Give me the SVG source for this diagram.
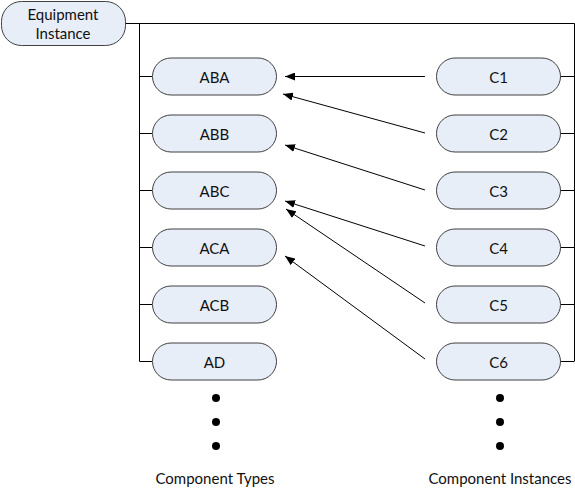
<svg xmlns="http://www.w3.org/2000/svg" width="575" height="489" viewBox="0 0 575 489">
<style>
.node rect{fill:#e8eef8;stroke:#404040;stroke-width:1}
.node text,.lbl{font-family:Lato,"Liberation Sans",Arial,sans-serif;font-size:15px;fill:#111;text-anchor:middle;dominant-baseline:central}
.conn path{fill:none;stroke:#000;stroke-width:1}
.arr path{fill:none;stroke:#000;stroke-width:1;marker-end:url(#ah)}
.dot{fill:#000}
</style>
<defs>
<marker id="ah" viewBox="0 0 10 8" refX="10" refY="4" markerWidth="10" markerHeight="8" markerUnits="userSpaceOnUse" orient="auto">
<path d="M0,0 L10,4 L0,8 Z" fill="#000"/>
</marker>
</defs>
<g id="connectors" class="conn">
<path d="M125.5,23.5 H574.5 V361"/>
<path d="M139.5,23.5 V361.5"/>
<path d="M139.5,76.5 H152 M139.5,133.5 H152 M139.5,190.5 H152 M139.5,247.5 H152 M139.5,304.5 H152 M139.5,361.5 H152"/>
<path d="M560,76.5 H574.5 M560,133.5 H574.5 M560,190.5 H574.5 M560,247.5 H574.5 M560,304.5 H574.5 M560,361.5 H574.5"/>
</g>
<g id="arrows" class="arr">
<path d="M425,76.5 L285,76.5"/>
<path d="M425,133 L283,94"/>
<path d="M425,190 L285,145"/>
<path d="M425,246 L285,201"/>
<path d="M425,303 L286,209"/>
<path d="M425,359 L285,256"/>
</g>
<g id="equipment" class="node"><rect x="1.5" y="1.5" width="124" height="44" rx="20"/><text x="63" y="14">Equipment</text><text x="63" y="33">Instance</text></g>
<g id="ABA" class="node"><rect x="152.5" y="58" width="124" height="37" rx="18.5"/><text x="214.5" y="76.5">ABA</text></g>
<g id="ABB" class="node"><rect x="152.5" y="115" width="124" height="37" rx="18.5"/><text x="214.5" y="133.5">ABB</text></g>
<g id="ABC" class="node"><rect x="152.5" y="172" width="124" height="37" rx="18.5"/><text x="214.5" y="190.5">ABC</text></g>
<g id="ACA" class="node"><rect x="152.5" y="229" width="124" height="37" rx="18.5"/><text x="214.5" y="247.5">ACA</text></g>
<g id="ACB" class="node"><rect x="152.5" y="286" width="124" height="37" rx="18.5"/><text x="214.5" y="304.5">ACB</text></g>
<g id="AD" class="node"><rect x="152.5" y="343" width="124" height="37" rx="18.5"/><text x="214.5" y="361.5">AD</text></g>
<g id="C1" class="node"><rect x="436.5" y="58" width="124" height="37" rx="18.5"/><text x="498.5" y="76.5">C1</text></g>
<g id="C2" class="node"><rect x="436.5" y="115" width="124" height="37" rx="18.5"/><text x="498.5" y="133.5">C2</text></g>
<g id="C3" class="node"><rect x="436.5" y="172" width="124" height="37" rx="18.5"/><text x="498.5" y="190.5">C3</text></g>
<g id="C4" class="node"><rect x="436.5" y="229" width="124" height="37" rx="18.5"/><text x="498.5" y="247.5">C4</text></g>
<g id="C5" class="node"><rect x="436.5" y="286" width="124" height="37" rx="18.5"/><text x="498.5" y="304.5">C5</text></g>
<g id="C6" class="node"><rect x="436.5" y="343" width="124" height="37" rx="18.5"/><text x="498.5" y="361.5">C6</text></g>
<g id="dots">
<circle class="dot" cx="216" cy="398" r="4"/><circle class="dot" cx="216" cy="422" r="4"/><circle class="dot" cx="216" cy="446" r="4"/>
<circle class="dot" cx="500" cy="398" r="4"/><circle class="dot" cx="500" cy="422" r="4"/><circle class="dot" cx="500" cy="446" r="4"/>
</g>
<g id="labels">
<text class="lbl" x="215" y="478">Component Types</text>
<text class="lbl" x="500" y="478">Component Instances</text>
</g>
</svg>
